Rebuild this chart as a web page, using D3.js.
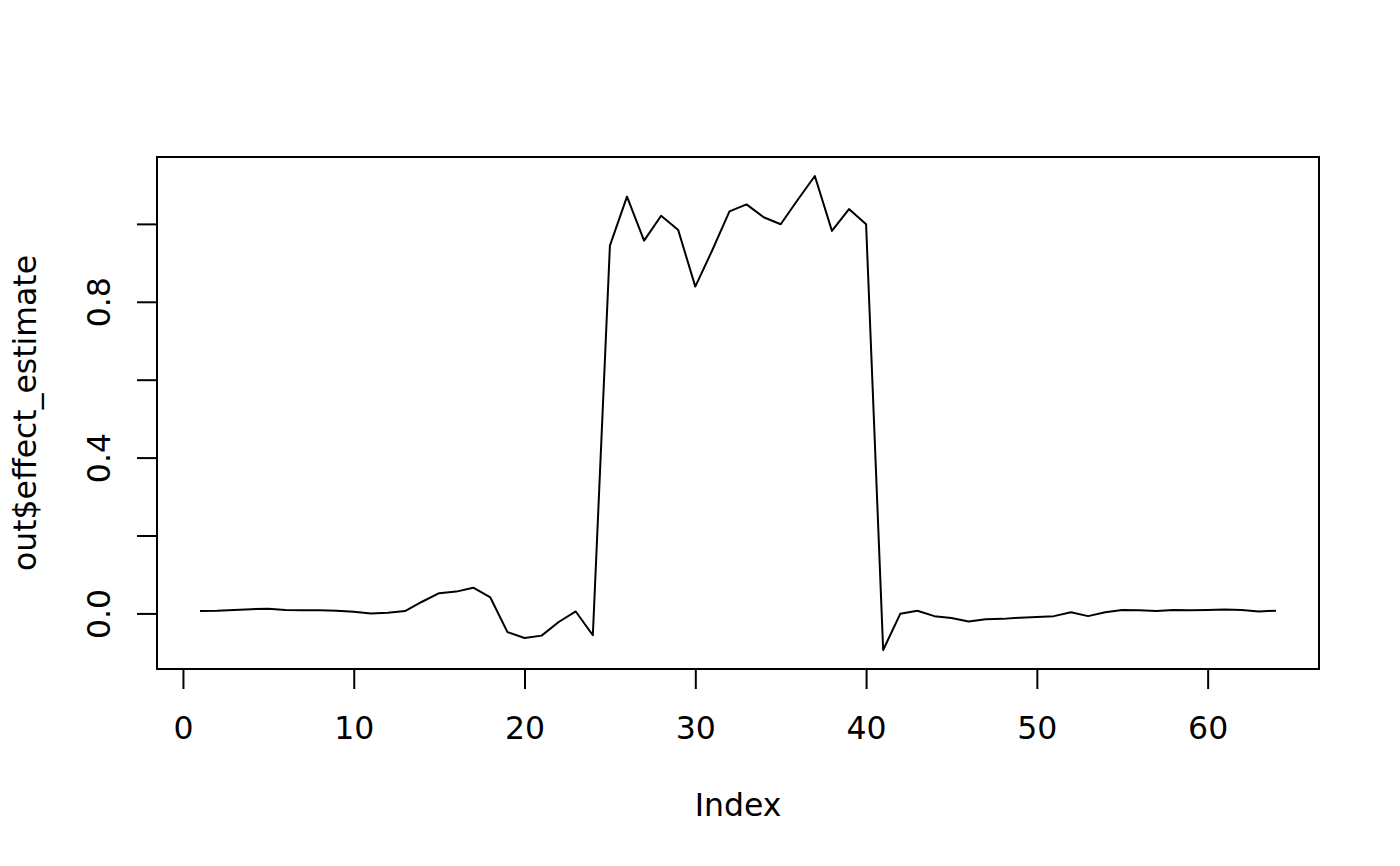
<!DOCTYPE html>
<html>
<head>
<meta charset="utf-8">
<script src="https://cdn.jsdelivr.net/npm/d3@7"></script>
<style>
  body { margin: 0; background: #fff; }
  text { font-family: "DejaVu Sans", sans-serif; fill: #000; }
</style>
</head>
<body>
<script>
// effect estimate per index
var index = d3.range(1, 65)
var effect = [
  0.006, 0.007, 0.009, 0.011, 0.012, 0.009, 0.008, 0.008, 0.007, 0.004,
  0.000, 0.002, 0.006, 0.030, 0.052, 0.056, 0.066, 0.041, -0.048, -0.063,
  -0.057, -0.022, 0.005, -0.056, 0.944, 1.070, 0.957, 1.021, 0.984, 0.839,
  0.933, 1.032, 1.050, 1.017, 0.999, 1.062, 1.123, 0.982, 1.038, 0.999,
  -0.094, -0.001, 0.007, -0.007, -0.012, -0.021, -0.015, -0.014, -0.011, -0.009,
  -0.007, 0.003, -0.007, 0.003, 0.009, 0.008, 0.006, 0.009, 0.008, 0.009,
  0.010, 0.009, 0.005, 0.007
]
var xTicks = [0, 10, 20, 30, 40, 50, 60]
var yTicks = [0, 0.2, 0.4, 0.6, 0.8, 1.0]
var yLabels = ['0.0', '', '0.4', '', '0.8', '']

var W = 1400, H = 866
var box = {left: 157, right: 1319, top: 157, bottom: 669}
var fs = 31.5
var lw = 2

// R style 4% padding on the data range
function pad(ext) {
  var d = (ext[1] - ext[0]) * 0.04
  return [ext[0] - d, ext[1] + d]
}

var x = d3.scaleLinear().domain(pad(d3.extent(index))).range([box.left, box.right])
var y = d3.scaleLinear().domain(pad(d3.extent(effect))).range([box.bottom, box.top])

var svg = d3.select('body').append('svg')
    .attr('width', W)
    .attr('height', H)

// line
var line = d3.line()
    .x(function (d, i) { return x(index[i]) })
    .y(function (d) { return y(d) })

svg.append('path')
    .datum(effect)
    .attr('d', line)
    .attr('fill', 'none')
    .attr('stroke', '#000')
    .attr('stroke-width', lw)
    .attr('stroke-linejoin', 'round')

// frame
svg.append('rect')
    .attr('x', box.left)
    .attr('y', box.top)
    .attr('width', box.right - box.left)
    .attr('height', box.bottom - box.top)
    .attr('fill', 'none')
    .attr('stroke', '#000')
    .attr('stroke-width', lw)

// x axis
var xAxis = d3.axisBottom(x)
    .tickValues(xTicks)
    .tickFormat(d3.format('d'))
    .tickSize(20)
    .tickSizeOuter(0)

var gx = svg.append('g')
    .attr('transform', 'translate(0,' + box.bottom + ')')
    .call(xAxis)
gx.select('.domain')
    .attr('d', 'M' + x(xTicks[0]) + ',0H' + x(xTicks[xTicks.length - 1]))
    .attr('stroke-width', lw)
gx.selectAll('.tick line').attr('stroke-width', lw)
gx.selectAll('.tick text')
    .attr('y', 70)
    .attr('dy', 0)
    .style('font-size', fs + 'px')
    .style('font-family', '"DejaVu Sans", sans-serif')

// y axis
var yAxis = d3.axisLeft(y)
    .tickValues(yTicks)
    .tickFormat(function (d, i) { return yLabels[i] })
    .tickSize(20)
    .tickSizeOuter(0)

var gy = svg.append('g')
    .attr('transform', 'translate(' + box.left + ',0)')
    .call(yAxis)
gy.select('.domain')
    .attr('d', 'M0,' + y(yTicks[0]) + 'V' + y(yTicks[yTicks.length - 1]))
    .attr('stroke-width', lw)
gy.selectAll('.tick line').attr('stroke-width', lw)
gy.selectAll('.tick text')
    .attr('transform', 'rotate(-90)')
    .attr('x', 0)
    .attr('y', -47)
    .attr('dy', 0)
    .attr('text-anchor', 'middle')
    .style('font-size', fs + 'px')
    .style('font-family', '"DejaVu Sans", sans-serif')

// axis titles
svg.append('text')
    .attr('x', (box.left + box.right) / 2)
    .attr('y', 816)
    .attr('text-anchor', 'middle')
    .style('font-size', fs + 'px')
    .text('Index')

svg.append('text')
    .attr('transform', 'translate(36,' + ((box.top + box.bottom) / 2) + ') rotate(-90)')
    .attr('text-anchor', 'middle')
    .style('font-size', fs + 'px')
    .text('out$effect_estimate')
</script>
</body>
</html>
